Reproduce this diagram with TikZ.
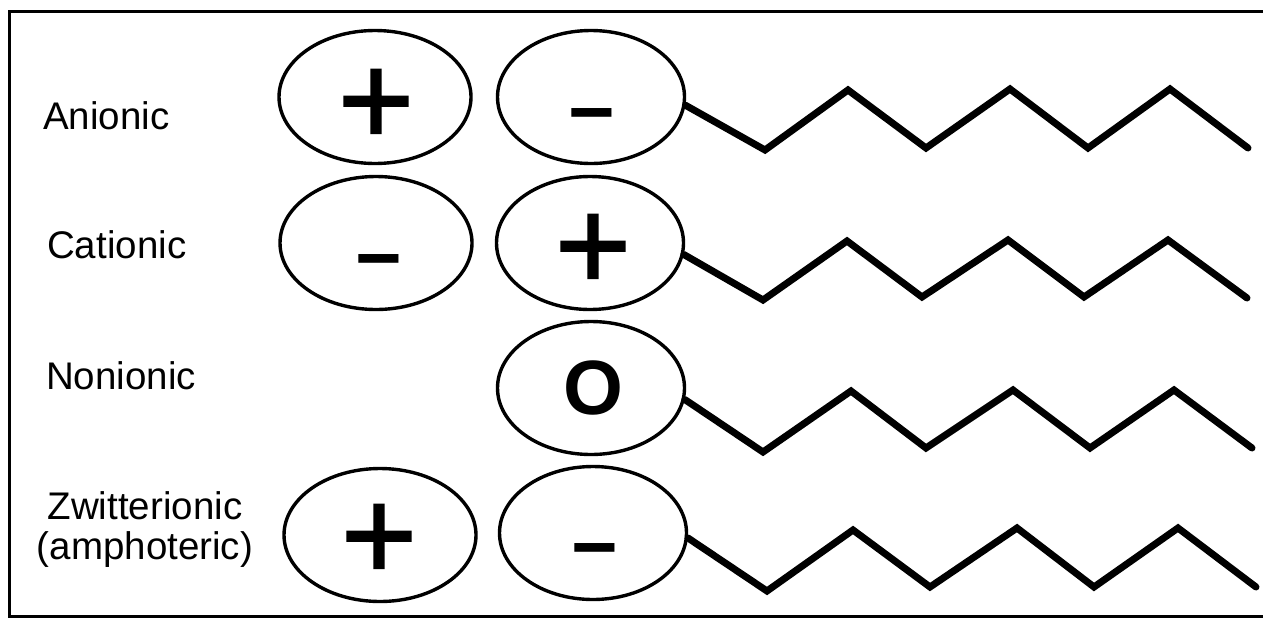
\documentclass[tikz,border=0pt]{standalone}
\usepackage{fontspec}
\setmainfont{Liberation Sans}
\newfontfamily\plusfont{Liberation Sans}[FakeBold=1.5]
\usetikzlibrary{shapes.geometric}
\begin{document}
\begin{tikzpicture}[x=1pt,y=-1pt,
  head/.style={draw, ellipse, line width=3.4pt, minimum height=133pt, inner sep=0pt},
  headL/.style={head, minimum width=192pt},
  headR/.style={head, minimum width=187pt},
  lbl/.style={font=\fontsize{38.5}{40}\selectfont, inner sep=0pt},
  sgnplus/.style={font=\plusfont\fontsize{130}{130}\selectfont, inner sep=0pt},
  sgnminus/.style={font=\fontsize{80}{80}\selectfont\bfseries, inner sep=0pt},
  sgnzero/.style={font=\fontsize{77}{77}\selectfont\bfseries, inner sep=0pt},
  chain/.style={line width=7pt, line join=miter, line cap=round},
  frame/.style={line width=3pt}
]
\useasboundingbox (0,0) rectangle (1263,619);
\draw[frame] (1275,11) -- (9,11) -- (9,616) -- (1275,616);

% labels
\node[lbl, anchor=west] (lanionic) at (43,116) {Anionic};
\node[lbl, anchor=west] (lcationic) at (47,245) {Cationic};
\node[lbl, anchor=west] (lnonionic) at (46,376) {Nonionic};
\node[lbl, align=center] (lzwitter) at (145,530) {Zwitterionic\\(amphoteric)};

% heads
\node[headL] (a1) at (375,97) {};
\node[headR] (a2) at (591,97) {};
\node[headL] (c1) at (376,243) {};
\node[headR] (c2) at (590,243) {};
\node[headR] (n2) at (591,388) {};
\node[headL] (z1) at (380,535) {};
\node[headR] (z2) at (593,533) {};

% charges
\node[sgnplus] (a1s) at (376,107) {+};
\node[sgnminus] (a2s) at (592,124) {−};
\node[sgnminus] (c1s) at (379,270) {−};
\node[sgnplus] (c2s) at (593,252) {+};
\node[sgnzero] (n2s) at (593,388) {O};
\node[sgnplus] (z1s) at (379,542) {+};
\node[sgnminus] (z2s) at (595,559) {−};

% tails
\draw[chain] (a2.-5) -- (765,150) -- (848,90) -- (926,148) -- (1010,89) -- (1088,148) -- (1170,89) -- (1248,148);
\draw[chain] (c2.-7) -- (763,300) -- (847,241) -- (922,297) -- (1008,240) -- (1084,297) -- (1168,240) -- (1247,298);
\draw[chain] (n2.-7) -- (763,452) -- (851,391) -- (926,448) -- (1013,390) -- (1090,448) -- (1174,390) -- (1252,448);
\draw[chain] (z2.-3) -- (767,591) -- (853,530) -- (930,587) -- (1017,528) -- (1094,587) -- (1178,528) -- (1256,587);
\end{tikzpicture}
\end{document}
